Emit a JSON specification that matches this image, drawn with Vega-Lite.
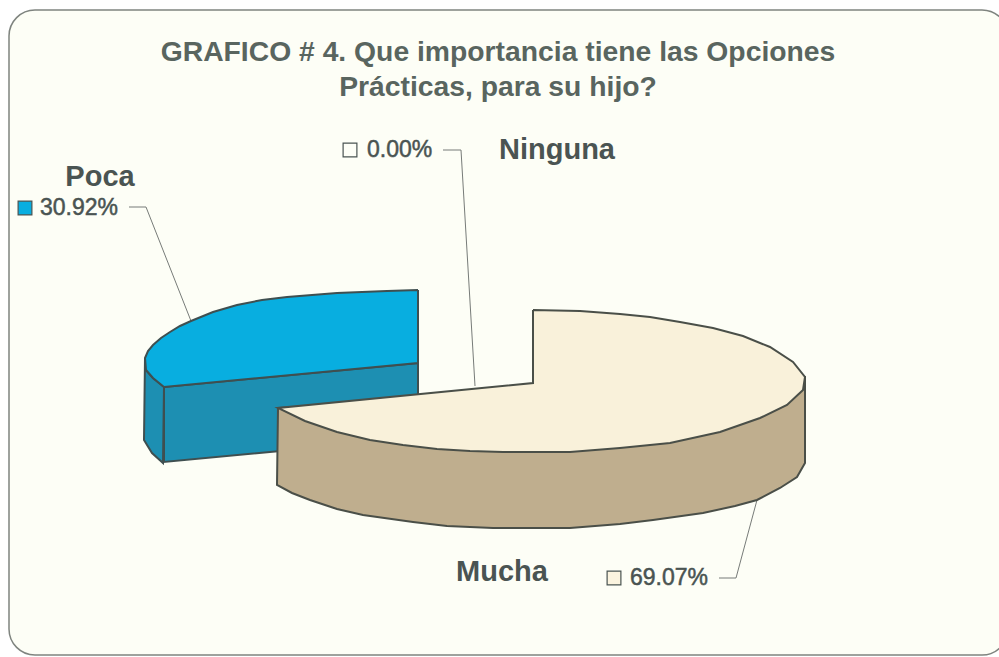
{"$schema":"https://vega.github.io/schema/vega-lite/v6.json","width":999,"height":657,"padding":0,"autosize":"none","background":"#ffffff","config":{"view":{"stroke":null}},
"datasets":{
"panel":[{"x":9,"x2":1008,"y":10,"y2":655}],
"shapes":[
{"part":"PocaFront","i":1,"x":164,"y":387},{"part":"PocaFront","i":2,"x":418,"y":363},{"part":"PocaFront","i":3,"x":418,"y":438},{"part":"PocaFront","i":4,"x":164,"y":462},{"part":"PocaFront","i":5,"x":164,"y":387},
{"part":"PocaLeft","i":1,"x":145,"y":358},{"part":"PocaLeft","i":2,"x":144,"y":440},{"part":"PocaLeft","i":3,"x":152,"y":453},{"part":"PocaLeft","i":4,"x":163,"y":463},{"part":"PocaLeft","i":5,"x":164,"y":387},{"part":"PocaLeft","i":6,"x":153,"y":378},{"part":"PocaLeft","i":7,"x":146,"y":370},{"part":"PocaLeft","i":8,"x":145,"y":358},
{"part":"PocaTop","i":1,"x":418,"y":290},{"part":"PocaTop","i":2,"x":418,"y":363},{"part":"PocaTop","i":3,"x":164,"y":387},{"part":"PocaTop","i":4,"x":153,"y":378},{"part":"PocaTop","i":5,"x":146,"y":370},{"part":"PocaTop","i":6,"x":145,"y":358},{"part":"PocaTop","i":7,"x":148,"y":351},{"part":"PocaTop","i":8,"x":153,"y":345},{"part":"PocaTop","i":9,"x":161,"y":338},{"part":"PocaTop","i":10,"x":170,"y":332},{"part":"PocaTop","i":11,"x":180,"y":326},{"part":"PocaTop","i":12,"x":191,"y":321},{"part":"PocaTop","i":13,"x":213,"y":312},{"part":"PocaTop","i":14,"x":237,"y":305},{"part":"PocaTop","i":15,"x":262,"y":300},{"part":"PocaTop","i":16,"x":287,"y":297},{"part":"PocaTop","i":17,"x":312,"y":295},{"part":"PocaTop","i":18,"x":337,"y":293},{"part":"PocaTop","i":19,"x":362,"y":292},{"part":"PocaTop","i":20,"x":387,"y":291},{"part":"PocaTop","i":21,"x":418,"y":290},
{"part":"MuchaSide","i":1,"x":278,"y":408},{"part":"MuchaSide","i":2,"x":277,"y":485},{"part":"MuchaSide","i":3,"x":292,"y":493},{"part":"MuchaSide","i":4,"x":310,"y":500},{"part":"MuchaSide","i":5,"x":337,"y":509},{"part":"MuchaSide","i":6,"x":363,"y":515},{"part":"MuchaSide","i":7,"x":413,"y":522},{"part":"MuchaSide","i":8,"x":447,"y":526},{"part":"MuchaSide","i":9,"x":493,"y":528},{"part":"MuchaSide","i":10,"x":570,"y":528},{"part":"MuchaSide","i":11,"x":620,"y":524},{"part":"MuchaSide","i":12,"x":653,"y":520},{"part":"MuchaSide","i":13,"x":703,"y":513},{"part":"MuchaSide","i":14,"x":735,"y":506},{"part":"MuchaSide","i":15,"x":757,"y":500},{"part":"MuchaSide","i":16,"x":780,"y":488},{"part":"MuchaSide","i":17,"x":797,"y":477},{"part":"MuchaSide","i":18,"x":805,"y":463},{"part":"MuchaSide","i":19,"x":805,"y":377},{"part":"MuchaSide","i":20,"x":278,"y":408},
{"part":"MuchaTop","i":1,"x":533,"y":310},{"part":"MuchaTop","i":2,"x":533,"y":383},{"part":"MuchaTop","i":3,"x":278,"y":408},{"part":"MuchaTop","i":4,"x":305,"y":421},{"part":"MuchaTop","i":5,"x":337,"y":432},{"part":"MuchaTop","i":6,"x":370,"y":440},{"part":"MuchaTop","i":7,"x":403,"y":445},{"part":"MuchaTop","i":8,"x":437,"y":449},{"part":"MuchaTop","i":9,"x":470,"y":451},{"part":"MuchaTop","i":10,"x":503,"y":452},{"part":"MuchaTop","i":11,"x":570,"y":452},{"part":"MuchaTop","i":12,"x":620,"y":448},{"part":"MuchaTop","i":13,"x":670,"y":443},{"part":"MuchaTop","i":14,"x":720,"y":432},{"part":"MuchaTop","i":15,"x":760,"y":418},{"part":"MuchaTop","i":16,"x":787,"y":405},{"part":"MuchaTop","i":17,"x":803,"y":390},{"part":"MuchaTop","i":18,"x":805,"y":377},{"part":"MuchaTop","i":19,"x":793,"y":362},{"part":"MuchaTop","i":20,"x":770,"y":347},{"part":"MuchaTop","i":21,"x":743,"y":336},{"part":"MuchaTop","i":22,"x":713,"y":328},{"part":"MuchaTop","i":23,"x":680,"y":322},{"part":"MuchaTop","i":24,"x":650,"y":317},{"part":"MuchaTop","i":25,"x":620,"y":314},{"part":"MuchaTop","i":26,"x":580,"y":311},{"part":"MuchaTop","i":27,"x":533,"y":310}
],
"leaders":[
{"name":"Poca","i":1,"x":129,"y":207},{"name":"Poca","i":2,"x":146,"y":207},{"name":"Poca","i":3,"x":191,"y":321},
{"name":"Ninguna","i":1,"x":443,"y":150},{"name":"Ninguna","i":2,"x":461,"y":150},{"name":"Ninguna","i":3,"x":475,"y":386},
{"name":"Mucha","i":1,"x":719,"y":578},{"name":"Mucha","i":2,"x":736,"y":578},{"name":"Mucha","i":3,"x":757,"y":500}
],
"titleLines":[{"text":"GRAFICO # 4. Que importancia tiene las Opciones","x":498,"y":53},{"text":"Prácticas, para su hijo?","x":498,"y":88}],
"categories":[
{"name":"Poca","pct":"30.92%","lx":100,"ly":177,"px":40,"py":208,"kx":25,"ky":208,"key":"Poca"},
{"name":"Ninguna","pct":"0.00%","lx":557,"ly":150,"px":367,"py":150,"kx":350,"ky":150,"key":"Ninguna"},
{"name":"Mucha","pct":"69.07%","lx":502,"ly":572,"px":630,"py":578,"kx":614,"ky":578,"key":"Mucha"}
]},
"encoding":{"x":{"type":"quantitative","scale":{"domain":[0,999],"nice":false,"zero":false},"axis":null},"y":{"type":"quantitative","scale":{"domain":[657,0],"nice":false,"zero":false},"axis":null}},
"layer":[
{"data":{"name":"panel"},"mark":{"type":"rect","fill":"#fdfef6","stroke":"#7f847f","strokeWidth":1.5,"cornerRadius":26},"encoding":{"x":{"field":"x","type":"quantitative"},"x2":{"field":"x2"},"y":{"field":"y","type":"quantitative"},"y2":{"field":"y2"}}},
{"data":{"name":"leaders"},"mark":{"type":"line","stroke":"#777b78","strokeWidth":1},"encoding":{"x":{"field":"x","type":"quantitative"},"y":{"field":"y","type":"quantitative"},"detail":{"field":"name"},"order":{"field":"i"}}},
{"data":{"name":"shapes"},"transform":[{"filter":"datum.part==='PocaFront'"}],"mark":{"type":"line","fill":"#1d8fb2","stroke":"#3f4f50","strokeWidth":2},"encoding":{"x":{"field":"x","type":"quantitative"},"y":{"field":"y","type":"quantitative"},"order":{"field":"i"}}},
{"data":{"name":"shapes"},"transform":[{"filter":"datum.part==='PocaLeft'"}],"mark":{"type":"line","fill":"#1d8fb2","stroke":"#3f4f50","strokeWidth":2},"encoding":{"x":{"field":"x","type":"quantitative"},"y":{"field":"y","type":"quantitative"},"order":{"field":"i"}}},
{"data":{"name":"shapes"},"transform":[{"filter":"datum.part==='PocaTop'"}],"mark":{"type":"line","fill":"#08aee0","stroke":"#3f4f50","strokeWidth":2},"encoding":{"x":{"field":"x","type":"quantitative"},"y":{"field":"y","type":"quantitative"},"order":{"field":"i"}}},
{"data":{"name":"shapes"},"transform":[{"filter":"datum.part==='MuchaSide'"}],"mark":{"type":"line","fill":"#bfae8e","stroke":"#4a4f48","strokeWidth":2},"encoding":{"x":{"field":"x","type":"quantitative"},"y":{"field":"y","type":"quantitative"},"order":{"field":"i"}}},
{"data":{"name":"shapes"},"transform":[{"filter":"datum.part==='MuchaTop'"}],"mark":{"type":"line","fill":"#f9f1da","stroke":"#4a4f48","strokeWidth":2},"encoding":{"x":{"field":"x","type":"quantitative"},"y":{"field":"y","type":"quantitative"},"order":{"field":"i"}}},
{"data":{"name":"titleLines"},"mark":{"type":"text","font":"Liberation Sans","fontWeight":"bold","fontSize":28.3,"fill":"#59655f","align":"center","baseline":"middle"},"encoding":{"x":{"field":"x","type":"quantitative"},"y":{"field":"y","type":"quantitative"},"text":{"field":"text"}}},
{"data":{"name":"categories"},"mark":{"type":"text","font":"Liberation Sans","fontWeight":"bold","fontSize":29,"fill":"#4a5452","align":"center","baseline":"middle"},"encoding":{"x":{"field":"lx","type":"quantitative"},"y":{"field":"ly","type":"quantitative"},"text":{"field":"name"}}},
{"data":{"name":"categories"},"mark":{"type":"text","font":"Liberation Sans","fontSize":23,"fill":"#4a5452","stroke":"#4a5452","strokeWidth":0.5,"align":"left","baseline":"middle"},"encoding":{"x":{"field":"px","type":"quantitative"},"y":{"field":"py","type":"quantitative"},"text":{"field":"pct"}}},
{"data":{"name":"categories"},"mark":{"type":"point","shape":"square","filled":true,"size":190,"opacity":1,"stroke":"#4a5452","strokeWidth":1.2},"encoding":{"x":{"field":"kx","type":"quantitative"},"y":{"field":"ky","type":"quantitative"},"fill":{"field":"key","type":"nominal","legend":null,"scale":{"domain":["Poca","Ninguna","Mucha"],"range":["#08aee0","#fdfef6","#fbf4df"]}}}}
]}
